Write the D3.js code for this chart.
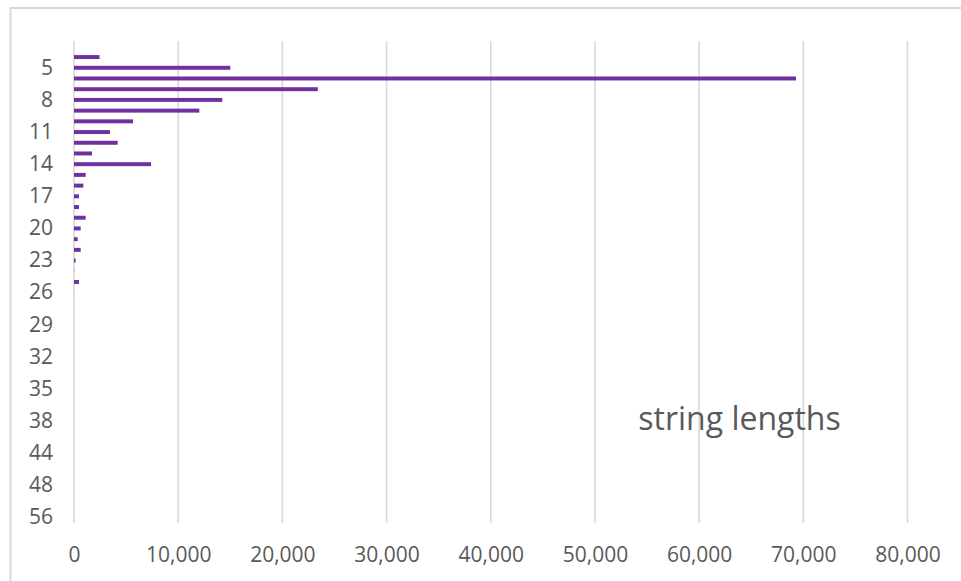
<!DOCTYPE html>
<html>
<head>
<meta charset="utf-8">
<script src="https://cdn.jsdelivr.net/npm/d3@7"></script>
<style>
  html, body { margin: 0; padding: 0; background: #ffffff; }
  svg { display: block; }
  text { font-family: "Open Sans", "Noto Sans", sans-serif; }
</style>
</head>
<body>
<script>
// String length (category) and how many strings have that length
const lengths = ["3","4","5","6","7","8","9","10","11","12","13","14","15","16","17","18","19","20",
  "21","22","23","24","25","26","27","28","29","30","31","32","33","34","35","36","37","38",
  "40","42","44","45","46","48","50","52","56"];
const counts = [0, 2450, 15000, 69300, 23400, 14230, 12030, 5660, 3450, 4190, 1730, 7390, 1120, 900, 480, 480, 1120, 640,
  350, 640, 150, 20, 480, 8, 6, 5, 4, 4, 3, 3, 2, 2, 2, 1, 1, 1,
  1, 1, 1, 1, 1, 1, 1, 1, 1];

// Category labels shown on the vertical axis (every third length)
const lengthLabels = ["5","8","11","14","17","20","23","26","29","32","35","38","44","48","56"];
// Value axis ticks
const countTicks = [0, 10000, 20000, 30000, 40000, 50000, 60000, 70000, 80000];
const chartTitle = "string lengths";

const W = 961, H = 581;
const plot = { left: 74, right: 907.5, top: 41, bottom: 523 };
const barColor = "#7030A0";
const gridColor = "#D9D9D9";
const textColor = "#595959";

const svg = d3.select("body").append("svg")
  .attr("width", W).attr("height", H);

// Chart area border (continues past the window edges)
svg.append("rect")
  .attr("x", 10.5).attr("y", 8)
  .attr("width", W + 20).attr("height", H + 20)
  .attr("fill", "#ffffff")
  .attr("stroke", gridColor).attr("stroke-width", 2);

const x = d3.scaleLinear()
  .domain([0, 80000])
  .range([plot.left, plot.right]);

const y = d3.scaleBand()
  .domain(lengths)
  .range([plot.top, plot.bottom])
  .paddingInner(0.63)
  .paddingOuter(0.315);

// Vertical gridlines
svg.append("g").selectAll("line")
  .data(countTicks)
  .join("line")
  .attr("x1", d => x(d)).attr("x2", d => x(d))
  .attr("y1", plot.top).attr("y2", plot.bottom)
  .attr("stroke", gridColor).attr("stroke-width", 1.6);

// Bars
const rows = lengths.map((l, i) => ({ length: l, count: counts[i] }));
svg.append("g").selectAll("rect")
  .data(rows)
  .join("rect")
  .attr("x", x(0))
  .attr("y", d => y(d.length))
  .attr("width", d => x(d.count) - x(0))
  .attr("height", y.bandwidth())
  .attr("fill", barColor);

// Category axis (left)
const yAxis = svg.append("g")
  .attr("transform", `translate(${plot.left},0)`)
  .call(d3.axisLeft(y).tickValues(lengthLabels).tickSize(0).tickPadding(21));
yAxis.select(".domain").remove();
yAxis.selectAll("text")
  .attr("fill", textColor)
  .style("font-size", "21px");

// Value axis (bottom)
const xAxis = svg.append("g")
  .attr("transform", `translate(0,${plot.bottom})`)
  .call(d3.axisBottom(x).tickValues(countTicks).tickFormat(d3.format(",")).tickSize(0).tickPadding(24));
xAxis.select(".domain").remove();
xAxis.selectAll("text")
  .attr("fill", textColor)
  .style("font-size", "21px");

// Title
svg.append("text")
  .attr("x", 739.5).attr("y", 430)
  .attr("text-anchor", "middle")
  .attr("fill", textColor)
  .style("font-size", "32px")
  .text(chartTitle);
</script>
</body>
</html>
